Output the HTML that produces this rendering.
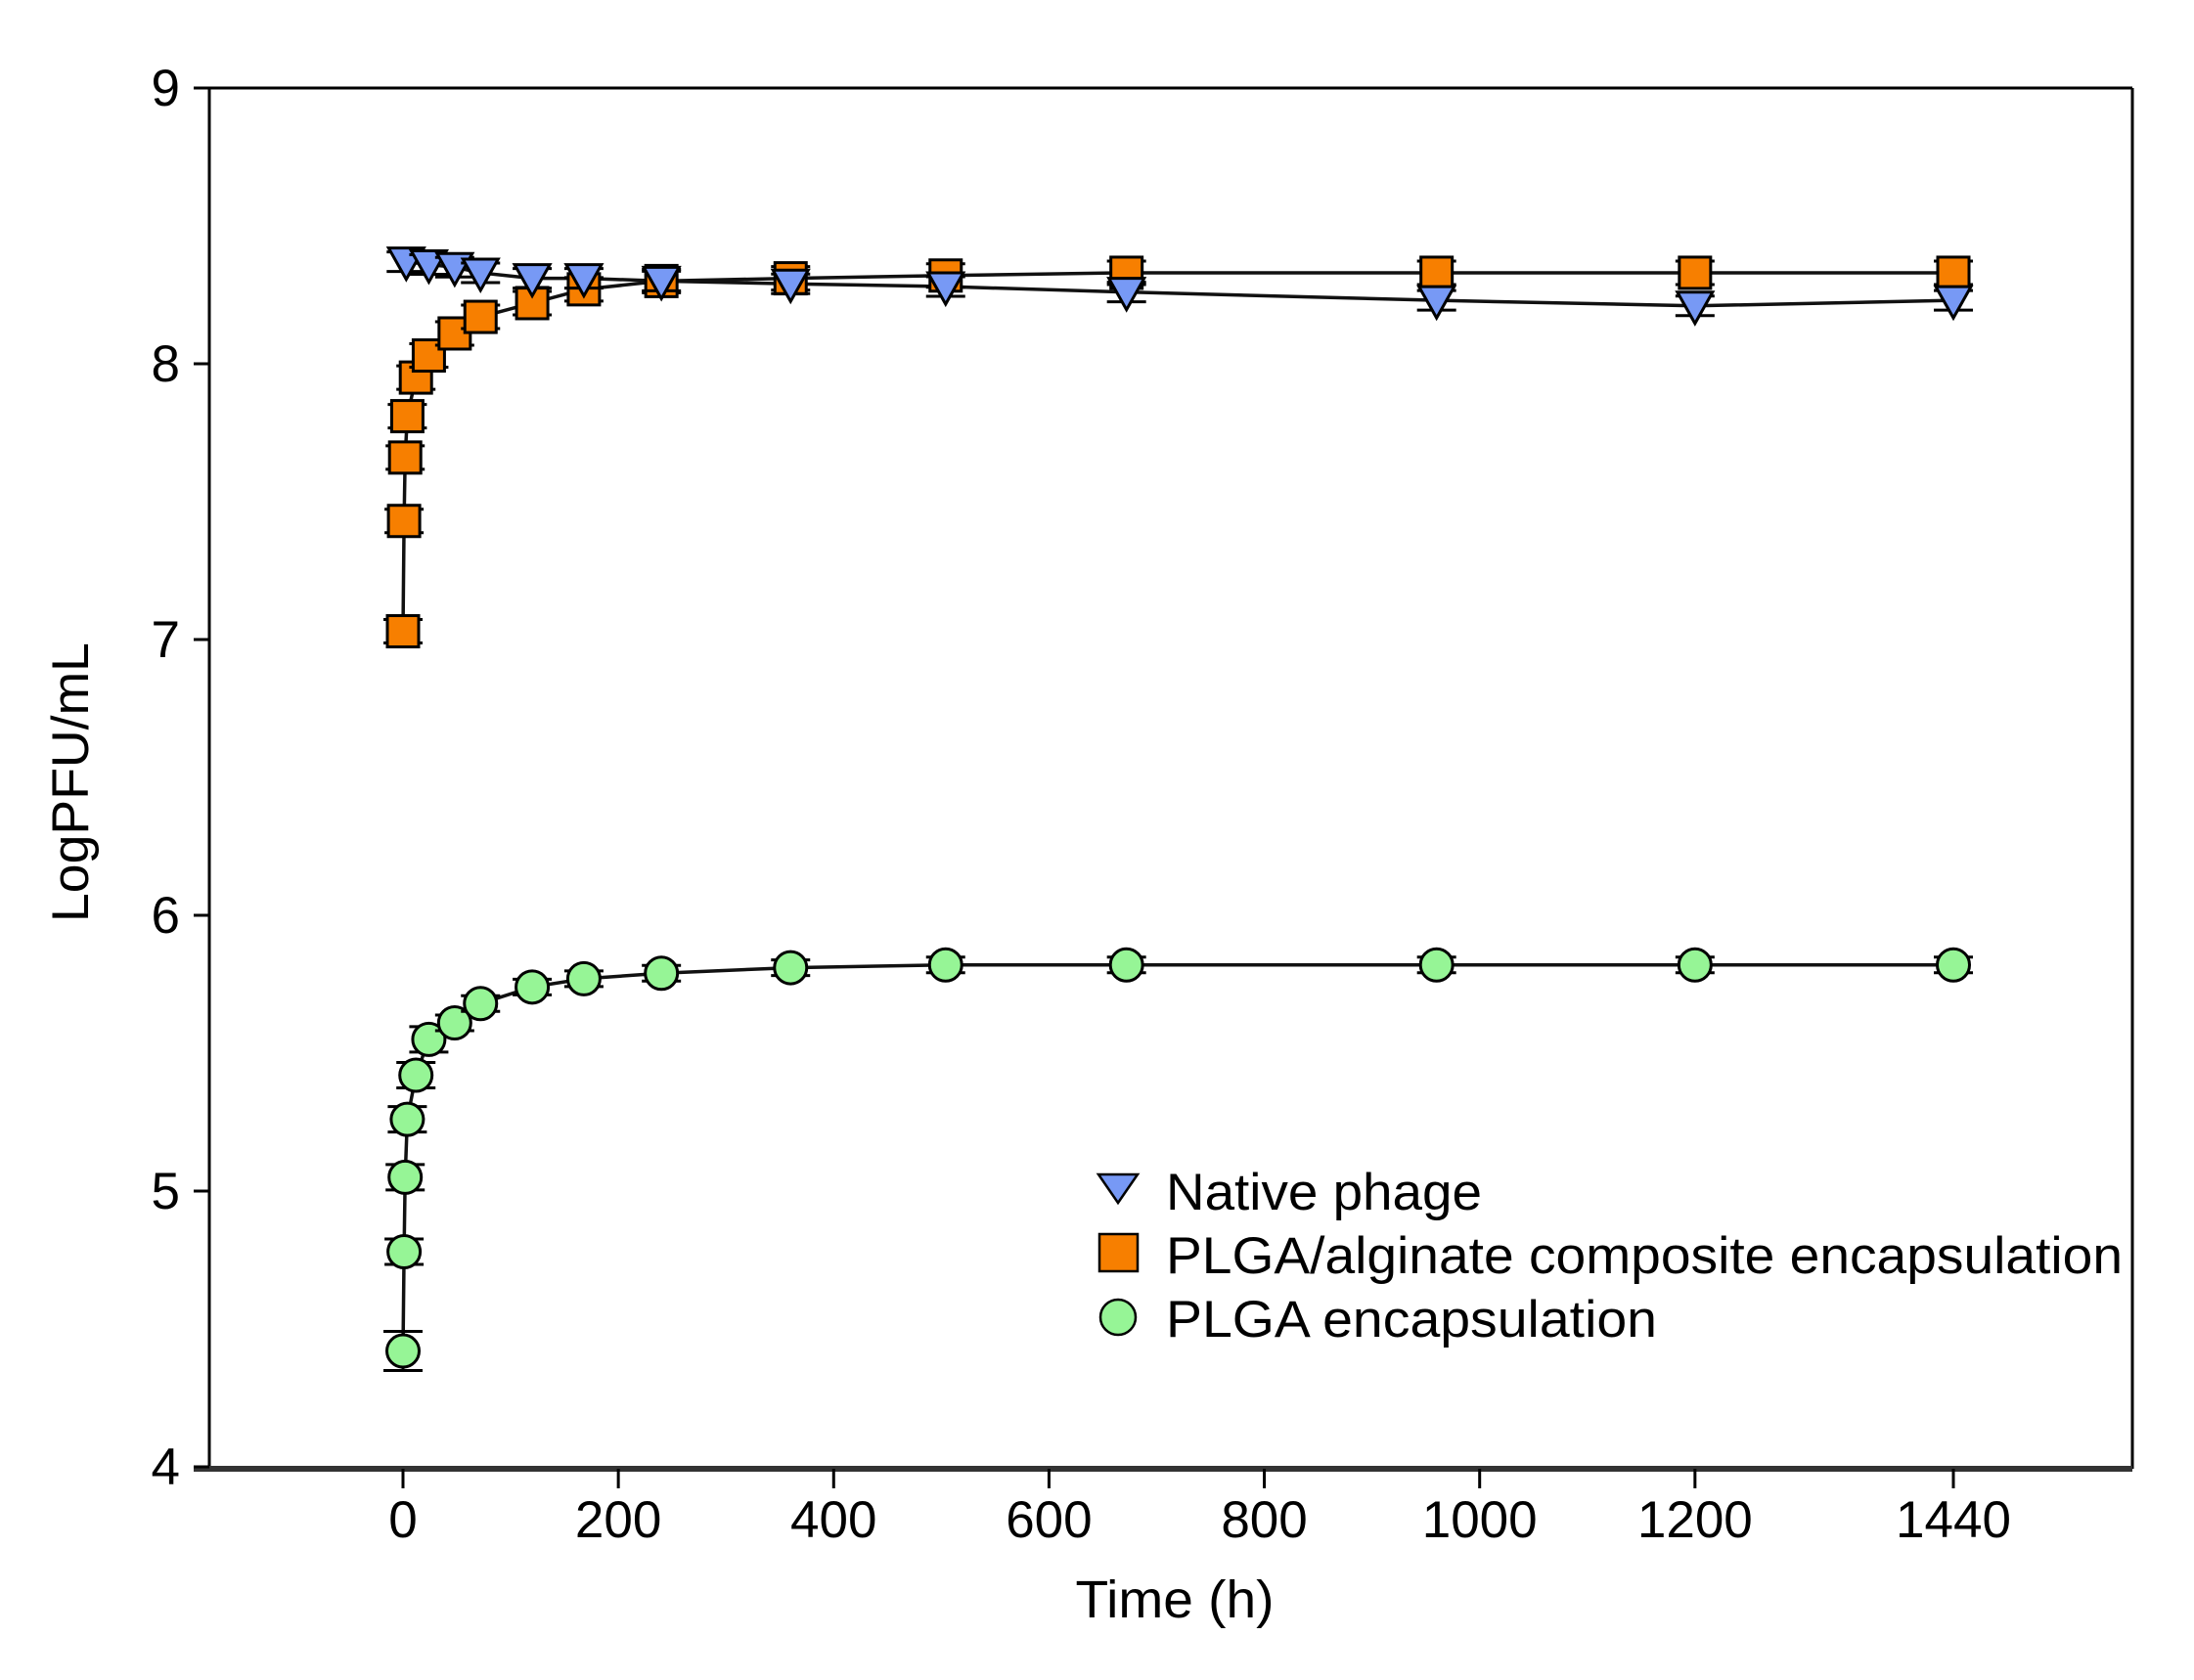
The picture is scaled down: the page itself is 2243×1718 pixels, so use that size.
<!DOCTYPE html>
<html><head><meta charset="utf-8"><style>
html,body{margin:0;padding:0;background:#fff}
svg text{font-family:"Liberation Sans",Arial,sans-serif;fill:#000}
</style></head><body>
<svg id="s" width="2243" height="1713" viewBox="0 0 2243 1713" xmlns="http://www.w3.org/2000/svg">
<rect width="2243" height="1713" fill="#fff"/>
<g id="ax"></g>
<g id="data"></g>
<text x="1201" y="1654" font-size="54" text-anchor="middle" textLength="203" lengthAdjust="spacingAndGlyphs">Time (h)</text>
<text transform="translate(90,800) rotate(-90)" font-size="53" text-anchor="middle" textLength="286" lengthAdjust="spacingAndGlyphs">LogPFU/mL</text>
<polygon points="1123,1201 1163,1201 1143,1230" fill="#7799f5" stroke="#000" stroke-width="2.5"/>
<rect x="1124" y="1262" width="39" height="38" fill="#f77f00" stroke="#000" stroke-width="2.5"/>
<circle cx="1143" cy="1347" r="18" fill="#96f596" stroke="#000" stroke-width="2.5"/>
<text x="1192" y="1237" font-size="53" textLength="323" lengthAdjust="spacingAndGlyphs">Native phage</text>
<text x="1192" y="1302" font-size="53" textLength="978" lengthAdjust="spacingAndGlyphs">PLGA/alginate composite encapsulation</text>
<text x="1192" y="1367" font-size="53" textLength="502" lengthAdjust="spacingAndGlyphs">PLGA encapsulation</text>
</svg>
<script>
var NS="http://www.w3.org/2000/svg";
function el(p,t,a){var e=document.createElementNS(NS,t);for(var k in a)e.setAttribute(k,a[k]);p.appendChild(e);return e;}
var X=function(t){return 412+t*1.1007;}, Y=function(v){return 1500-(v-4)*282;};
var ax=document.getElementById('ax'), d=document.getElementById('data');
el(ax,'line',{x1:214,y1:90,x2:2180,y2:90,stroke:'#000','stroke-width':3});
el(ax,'line',{x1:2180,y1:90,x2:2180,y2:1502,stroke:'#000','stroke-width':3});
el(ax,'line',{x1:214,y1:90,x2:214,y2:1502,stroke:'#000','stroke-width':3});
el(ax,'line',{x1:198,y1:1502,x2:2180,y2:1502,stroke:'#333','stroke-width':6});
for(var v=4;v<=9;v++){var y=Y(v);el(ax,'line',{x1:198,y1:y,x2:214,y2:y,stroke:'#000','stroke-width':3});
 var t=el(ax,'text',{x:184,y:y+18,'font-size':53,'text-anchor':'end'});t.textContent=v;}
[0,200,400,600,800,1000,1200,1440].forEach(function(h){var x=X(h);el(ax,'line',{x1:x,y1:1502,x2:x,y2:1522,stroke:'#000','stroke-width':3});
 var t=el(ax,'text',{x:x,y:1572,'font-size':53,'text-anchor':'middle'});t.textContent=h;});
var T=[0,1,2,4,12,24,48,72,120,168,240,360,504,672,960,1200,1440];
var sq=[7.03,7.43,7.66,7.81,7.95,8.03,8.11,8.17,8.22,8.27,8.30,8.31,8.32,8.33,8.33,8.33,8.33];
var ci=[4.42,4.78,5.05,5.26,5.42,5.55,5.61,5.68,5.74,5.77,5.79,5.81,5.82,5.82,5.82,5.82,5.82];
var TT=[3,24,48,72,120,168,240,360,504,672,960,1200,1440];
var tr=[8.37,8.36,8.35,8.33,8.31,8.31,8.30,8.29,8.28,8.26,8.23,8.21,8.23];
function line(ts,vs){var p=ts.map(function(t,i){return X(t)+','+Y(vs[i]);}).join(' ');el(d,'polyline',{points:p,fill:'none',stroke:'#111','stroke-width':3.5});}
function err(x,y,e){el(d,'line',{x1:x,y1:y-e,x2:x,y2:y+e,stroke:'#000','stroke-width':3});
 el(d,'line',{x1:x-20,y1:y-e,x2:x+20,y2:y-e,stroke:'#000','stroke-width':3});el(d,'line',{x1:x-20,y1:y+e,x2:x+20,y2:y+e,stroke:'#000','stroke-width':3});}
line(T,ci);line(T,sq);line(TT,tr);
T.forEach(function(t,i){var x=X(t),y=Y(ci[i]);err(x,y,i==0?20:(i<6?13:8));el(d,'circle',{cx:x,cy:y,r:16.5,fill:'#96f596',stroke:'#000','stroke-width':3});});
T.forEach(function(t,i){var x=X(t),y=Y(sq[i]);err(x,y,12);el(d,'rect',{x:x-16,y:y-16,width:32,height:32,fill:'#f77f00',stroke:'#000','stroke-width':3});});
TT.forEach(function(t,i){var x=X(t),y=Y(tr[i]);err(x,y,10);el(d,'polygon',{points:(x-18)+','+(y-14)+' '+(x+18)+','+(y-14)+' '+x+','+(y+18),fill:'#7799f5',stroke:'#000','stroke-width':3});});
</script>
</body></html>
